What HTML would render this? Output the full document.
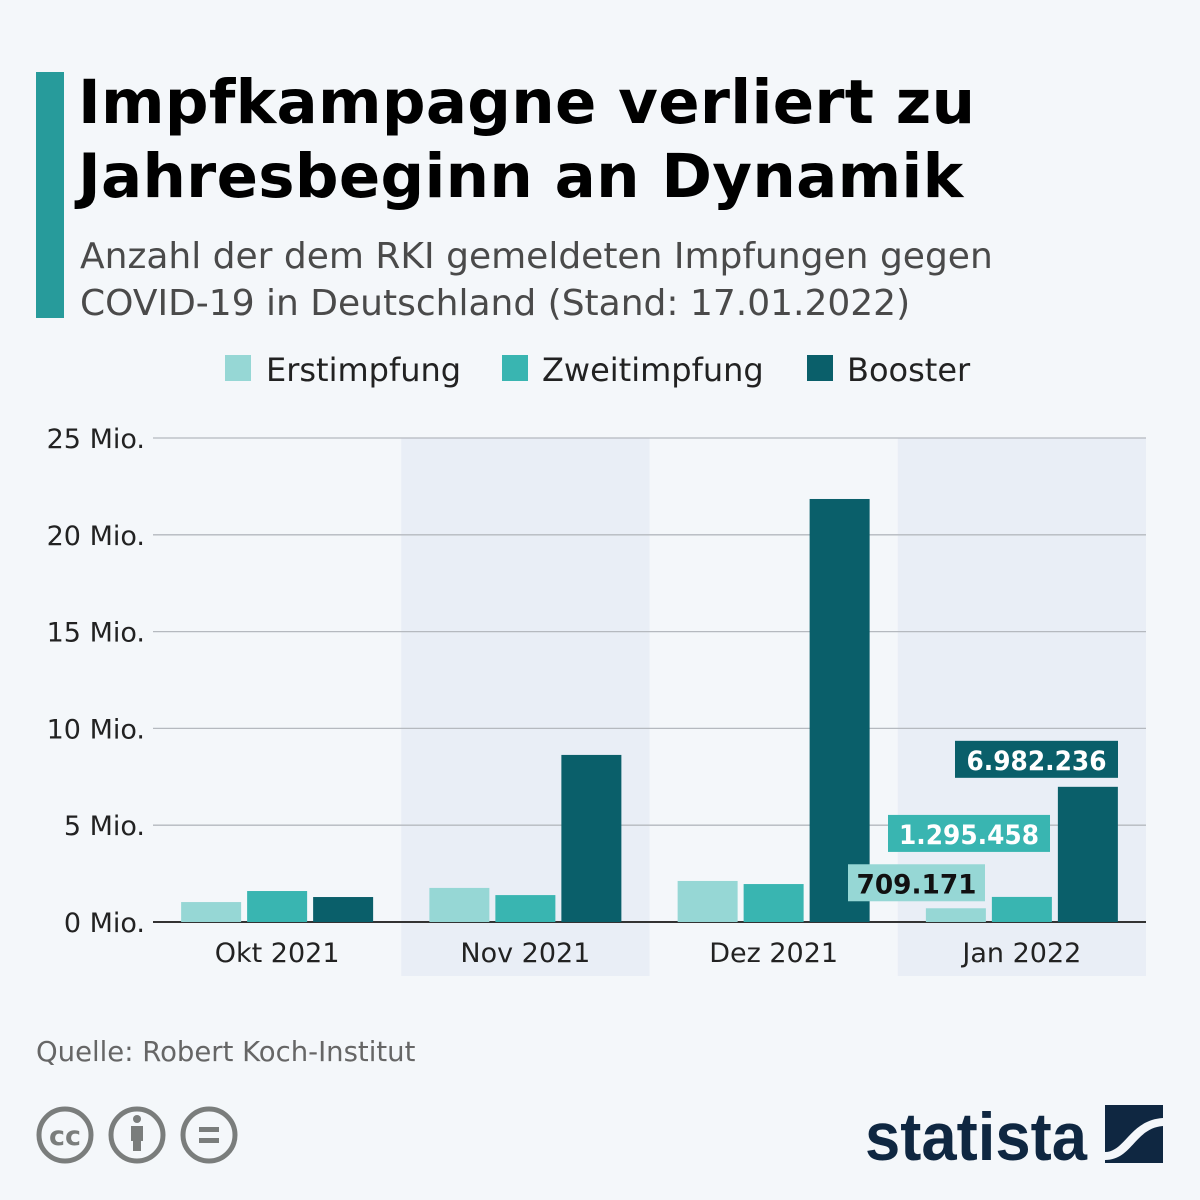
<!DOCTYPE html>
<html><head><meta charset="utf-8"><style>
body{margin:0;width:1200px;height:1200px;background:#f4f7fa;font-family:"DejaVu Sans","Liberation Sans",sans-serif;overflow:hidden;position:relative}
.t{position:absolute}
</style></head><body>
<div class="t" style="left:36px;top:72px;width:28px;height:246px;background:#279b9b"></div>
<div class="t" style="left:78px;top:66px;font-size:61px;font-weight:bold;line-height:74px;color:#000;letter-spacing:0.3px">Impfkampagne verliert zu<br>Jahresbeginn an Dynamik</div>
<div class="t" style="left:80px;top:233px;font-size:36px;line-height:47px;color:#4a4a4a">Anzahl der dem RKI gemeldeten Impfungen gegen<br>COVID-19 in Deutschland (Stand: 17.01.2022)</div>
<svg class="t" style="left:0;top:0" width="1200" height="1200" id="chart">
<g id="bands"></g><g id="grid"></g><g id="bars"></g><g id="labels"></g>
<g font-size="32" fill="#222">
<rect x="225" y="355" width="26" height="26" fill="#96d7d5"/>
<text x="266" y="381">Erstimpfung</text>
<rect x="502" y="355" width="26" height="26" fill="#39b5b1"/>
<text x="542" y="381">Zweitimpfung</text>
<rect x="807" y="355" width="26" height="26" fill="#0a5f6a"/>
<text x="847" y="381">Booster</text>
</g>
<text x="36" y="1061" font-size="27.5" fill="#666">Quelle: Robert Koch-Institut</text>
<g fill="none" stroke="#7a7d7c" stroke-width="5">
<circle cx="65" cy="1135" r="26"/><circle cx="137" cy="1135" r="26"/><circle cx="209" cy="1135" r="26"/>
<text x="65" y="1145" font-size="27" font-weight="bold" fill="#7a7d7c" stroke="none" text-anchor="middle">cc</text>
<circle cx="137" cy="1119" r="4" fill="#7a7d7c" stroke="none"/>
<rect x="131" y="1126" width="12" height="15" fill="#7a7d7c" stroke="none"/><rect x="133" y="1139" width="8" height="12" fill="#7a7d7c" stroke="none"/>
<rect x="199" y="1127" width="20" height="5" fill="#7a7d7c" stroke="none"/><rect x="199" y="1138" width="20" height="5" fill="#7a7d7c" stroke="none"/>
</g>
<g>
<text x="865" y="1160" font-size="68" font-weight="bold" fill="#0f2741" font-family="Liberation Sans, sans-serif" textLength="222" lengthAdjust="spacingAndGlyphs">statista</text>
<rect x="1105" y="1105" width="58" height="58" fill="#0f2741"/>
<path d="M1105 1152 C1125 1152 1130 1120 1163 1118 L1163 1126 C1135 1128 1132 1160 1105 1160 Z" fill="#f4f7fa"/>
</g>
</svg>
<script>
const categories=["Okt 2021","Nov 2021","Dez 2021","Jan 2022"];
const erstimpfung=[1.03,1.76,2.12,0.709171];
const zweitimpfung=[1.6,1.39,1.96,1.295458];
const booster=[1.29,8.63,21.85,6.982236];
const yTicks=[0,5,10,15,20,25];
const tickLabels=["0 Mio.","5 Mio.","10 Mio.","15 Mio.","20 Mio.","25 Mio."];
const lastLabels=["709.171","1.295.458","6.982.236"];
const NS="http://www.w3.org/2000/svg";
const x0=153,x1=1146,yb=922,yt=438;
const y=v=>yb-(v/25)*(yb-yt);
const bw=(x1-x0)/categories.length;
function mk(tag,attrs,parent){const e=document.createElementNS(NS,tag);for(const k in attrs)e.setAttribute(k,attrs[k]);document.getElementById(parent).appendChild(e);return e;}
categories.forEach((c,i)=>{
 if(i%2===1){const r=mk("rect",{x:x0+i*bw,y:yt,width:bw,height:976-yt,fill:"#e9eef6"},"bands");
 
 }
 const t=mk("text",{x:x0+i*bw+bw/2,y:962,"font-size":27,fill:"#222","text-anchor":"middle"},"labels");t.textContent=c;
 
 
});
yTicks.forEach((v,i)=>{
 const l=mk("line",{x1:x0,x2:x1,y1:y(v),y2:y(v),stroke:v===0?"#333":"#b5b9bf","stroke-width":v===0?2:1.3},"grid");
 
 
 const t=mk("text",{x:145,y:y(v)+10,"font-size":27,fill:"#222","text-anchor":"end"},"grid");t.textContent=tickLabels[i];
 
 
});
const series=[[erstimpfung,"#96d7d5","erstimpfung"],[zweitimpfung,"#39b5b1","zweitimpfung"],[booster,"#0a5f6a","booster"]];
categories.forEach((c,i)=>{
 const cx=x0+i*bw+bw/2;
 series.forEach((s,j)=>{
  const bx=cx-96+j*66;
  const r=mk("rect",{x:bx,y:y(s[0][i]),width:60,height:yb-y(s[0][i]),fill:s[1]},"bars");
  
  
 });
});
const li=categories.length-1;
const lw=[137,162,163], lfill=["#96d7d5","#39b5b1","#0a5f6a"], ltxt=["#111","#fff","#fff"], lx=[848,888,955], tl=[120,140,140];
series.forEach((s,j)=>{
 const v=s[0][li]; const top=y(v);
 const by= j===0? top-44 : j===1? top-82 : top-46;
 const r=mk("rect",{x:lx[j],y:by,width:lw[j],height:37,fill:lfill[j]},"labels");
 
 
 const t=mk("text",{x:lx[j]+lw[j]/2,y:by+29,"font-size":27,"font-weight":"bold",fill:ltxt[j],"text-anchor":"middle",textLength:tl[j],lengthAdjust:"spacingAndGlyphs"},"labels");
 t.textContent=lastLabels[j];
 
 
});
</script>
</body></html>
